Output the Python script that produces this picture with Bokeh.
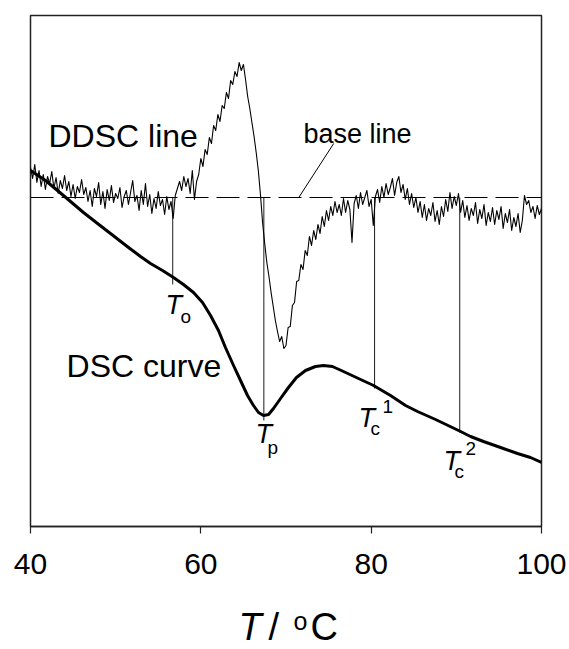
from bokeh.plotting import figure
from bokeh.layouts import column
from bokeh.models import Range1d, FixedTicker, Label, Span
from bokeh.embed import file_html
from bokeh.resources import INLINE

# ---------------- data (T in degC, signals in arbitrary units) ----------------
dsc_t = [40.00, 41.76, 43.17, 44.70, 46.22, 47.87, 49.39, 51.51, 52.92, 54.09,
         55.50, 56.79, 57.96, 59.14, 60.20, 61.14, 62.07, 62.89, 63.84, 64.66,
         65.48, 66.18, 66.77, 67.36, 67.95, 68.53, 69.36, 70.29, 71.23, 72.29,
         73.46, 74.40, 75.46, 76.75, 78.51, 80.28, 82.27, 84.04, 85.44, 87.56,
         90.26, 91.67, 93.19, 95.19, 97.18, 98.71, 100.0]
dsc_y = [356, 346, 336, 325, 314, 303, 293, 279, 270, 263,
         256, 249, 242, 234, 224, 211, 196, 179, 161, 146,
         131, 121, 114, 111, 112, 118, 128, 139, 149, 156,
         160, 161, 160, 155, 148, 141, 131, 121, 115, 107,
         96, 90, 85, 79, 73, 69, 64]

ddsc_t = [40.0, 40.25, 40.5, 40.75, 41.0, 41.25, 41.5, 41.75,
          42.0, 42.25, 42.5, 42.75, 43.0, 43.25, 43.5, 43.75,
          44.0, 44.25, 44.5, 44.75, 45.0, 45.25, 45.5, 45.75,
          46.0, 46.25, 46.5, 46.75, 47.0, 47.25, 47.5, 47.75,
          48.0, 48.25, 48.5, 48.75, 49.0, 49.25, 49.5, 49.75,
          50.0, 50.25, 50.5, 50.75, 51.0, 51.25, 51.5, 51.75,
          52.0, 52.25, 52.5, 52.75, 53.0, 53.25, 53.5, 53.75,
          54.0, 54.25, 54.5, 54.75, 55.0, 55.25, 55.5, 55.75,
          56.0, 56.25, 56.5, 56.75, 57.0, 57.25, 57.5, 57.75,
          58.0, 58.25, 58.5, 58.75, 59.0, 59.25, 59.5, 59.75,
          60.0, 60.25, 60.5, 60.75, 61.0, 61.25, 61.5, 61.75,
          62.0, 62.25, 62.5, 62.75, 63.0, 63.25, 63.5, 63.75,
          64.0, 64.25, 64.5, 64.75, 65.0, 65.25, 65.5, 65.75,
          66.0, 66.25, 66.5, 66.75, 67.0, 67.25, 67.5, 67.75,
          68.0, 68.25, 68.5, 68.75, 69.0, 69.25, 69.5, 69.75,
          70.0, 70.25, 70.5, 70.75, 71.0, 71.25, 71.5, 71.75,
          72.0, 72.25, 72.5, 72.75, 73.0, 73.25, 73.5, 73.75,
          74.0, 74.25, 74.5, 74.75, 75.0, 75.25, 75.5, 75.75,
          76.0, 76.25, 76.5, 76.75, 77.0, 77.25, 77.5, 77.75,
          78.0, 78.25, 78.5, 78.75, 79.0, 79.25, 79.5, 79.75,
          80.0, 80.25, 80.5, 80.75, 81.0, 81.25, 81.5, 81.75,
          82.0, 82.25, 82.5, 82.75, 83.0, 83.25, 83.5, 83.75,
          84.0, 84.25, 84.5, 84.75, 85.0, 85.25, 85.5, 85.75,
          86.0, 86.25, 86.5, 86.75, 87.0, 87.25, 87.5, 87.75,
          88.0, 88.25, 88.5, 88.75, 89.0, 89.25, 89.5, 89.75,
          90.0, 90.25, 90.5, 90.75, 91.0, 91.25, 91.5, 91.75,
          92.0, 92.25, 92.5, 92.75, 93.0, 93.25, 93.5, 93.75,
          94.0, 94.25, 94.5, 94.75, 95.0, 95.25, 95.5, 95.75,
          96.0, 96.25, 96.5, 96.75, 97.0, 97.25, 97.5, 97.75,
          98.0, 98.25, 98.5, 98.75, 99.0, 99.25, 99.5, 99.75,
          100.0]
ddsc_y = [359, 348, 362, 344, 356, 340, 352, 337, 350, 343,
          355, 338, 349, 333, 346, 338, 351, 336, 345, 330,
          342, 328, 340, 334, 347, 332, 339, 325, 336, 320,
          338, 330, 344, 322, 335, 318, 337, 326, 341, 324,
          333, 328, 339, 319, 330, 336, 322, 334, 346, 325,
          331, 316, 336, 322, 343, 320, 332, 313, 328, 318,
          335, 321, 327, 312, 330, 317, 325, 308, 331, 338,
          345, 336, 350, 340, 348, 333, 356, 327, 345,
          352, 368, 360, 377, 372, 389, 383, 401, 396, 412,
          405, 421, 418, 434, 428, 446, 442, 455, 450, 464,
          456, 462,
          447, 430, 418, 404, 390, 374, 356, 332, 304, 283,
          264, 250, 234, 220, 206, 195, 185, 190, 178,
          181, 199, 200, 221, 224, 245, 246, 262, 257, 276,
          271, 290, 281, 296, 287, 302, 293, 310, 300, 316,
          306, 320, 311, 325, 314,
          322, 311, 328, 314, 326, 317, 284, 323, 331, 318,
          334, 322, 329, 336, 320, 327, 301, 330, 337, 324,
          340, 329, 343, 332, 339, 348, 331, 344, 350, 334,
          342, 327, 338, 322, 333, 319, 329, 314, 325, 309,
          322, 306, 318, 311, 324, 305, 316, 302, 320, 310,
          327, 315, 334, 318, 330, 321, 333, 314, 326, 309,
          321, 306, 318, 311, 324, 303, 317, 308, 322, 301,
          314, 305, 319, 302, 316, 307, 320, 298, 313, 304,
          317, 296, 309, 300, 313, 294, 306, 331, 322, 326,
          314, 320, 308, 321, 312, 318]

baseline_level = 329
marker_t = [56.7, 67.4, 80.4, 90.4]          # T_o, T_p, T_c1, T_c2
marker_low = [242, 106, 138, 94]
leader_t = [71.5, 75.6]
leader_y = [329, 383]
tick_values = [40, 60, 80, 100]

FONT = "Liberation Sans"

p = figure(width=569, height=600, x_range=Range1d(40, 100), y_range=Range1d(0, 511),
           output_backend="svg", toolbar_location=None, y_axis_location=None,
           min_border_left=30, min_border_right=28, min_border_top=15,
           min_border_bottom=74, background_fill_color="white",
           border_fill_color="white")
p.grid.visible = False
p.outline_line_color = "#222222"
p.outline_line_width = 1.5

ax = p.xaxis[0]
ax.ticker = FixedTicker(ticks=tick_values)
ax.major_tick_out = 7
ax.major_tick_in = 0
ax.minor_tick_line_color = None
ax.axis_line_color = "#222222"
ax.axis_line_width = 1.5
ax.major_tick_line_color = "#222222"
ax.major_tick_line_width = 1.2
ax.major_label_text_font = FONT
ax.major_label_text_font_size = "30px"
ax.major_label_text_color = "black"
ax.major_label_standoff = 20

p.add_layout(Span(location=baseline_level, dimension="width", line_color="black",
                  line_width=1, line_dash="23 8"))
p.segment(x0=marker_t, y0=[baseline_level] * len(marker_t), x1=marker_t, y1=marker_low,
          line_color="black", line_width=0.9)
p.line(leader_t, leader_y, line_color="black", line_width=1)
p.line(ddsc_t, ddsc_y, line_color="black", line_width=1.1, line_join="round")
p.line(dsc_t, dsc_y, line_color="black", line_width=3, line_join="round")


def lab(fig, x, y, text, size, style="normal"):
    # y is the text baseline; the renderer centres "alphabetic" text on y,
    # so lift it by about half a cap height
    fig.add_layout(Label(x=x, y=y, y_offset=0.36 * size, text=text, text_font=FONT,
                         text_font_size=f"{size}px", text_font_style=style,
                         text_color="black", text_align="left",
                         text_baseline="alphabetic"))


lab(p, 42.11, 379, "DDSC line", 32)
lab(p, 44.23, 149, "DSC curve", 32)
lab(p, 72.06, 383, "base line", 27)
# T_o
lab(p, 55.85, 212, "T", 27, "italic")
lab(p, 57.61, 203, "o", 19)
# T_p
lab(p, 66.42, 83, "T", 27, "italic")
lab(p, 67.83, 72, "p", 19)
# T_c^1
lab(p, 78.51, 99, "T", 27, "italic")
lab(p, 79.92, 91, "c", 19)
lab(p, 81.33, 113, "1", 19)
# T_c^2
lab(p, 88.49, 56, "T", 27, "italic")
lab(p, 89.79, 48, "c", 19)
lab(p, 91.08, 71, "2", 19)

# axis-title strip below the chart (T / oC)
q = figure(width=569, height=49, x_range=p.x_range, y_range=Range1d(0, 49),
           output_backend="svg", toolbar_location=None, x_axis_location=None,
           y_axis_location=None, min_border_left=30, min_border_right=28,
           min_border_top=0, min_border_bottom=0, background_fill_color="white",
           border_fill_color="white")
q.grid.visible = False
q.outline_line_color = None
lab(q, 64.42, 9, "T", 38, "italic")
lab(q, 67.94, 9, "/", 38)
lab(q, 70.88, 20, "o", 25)
lab(q, 72.88, 9, "C", 38)

layout = column(p, q, spacing=0)
open("out.html", "w").write(file_html(layout, INLINE))
